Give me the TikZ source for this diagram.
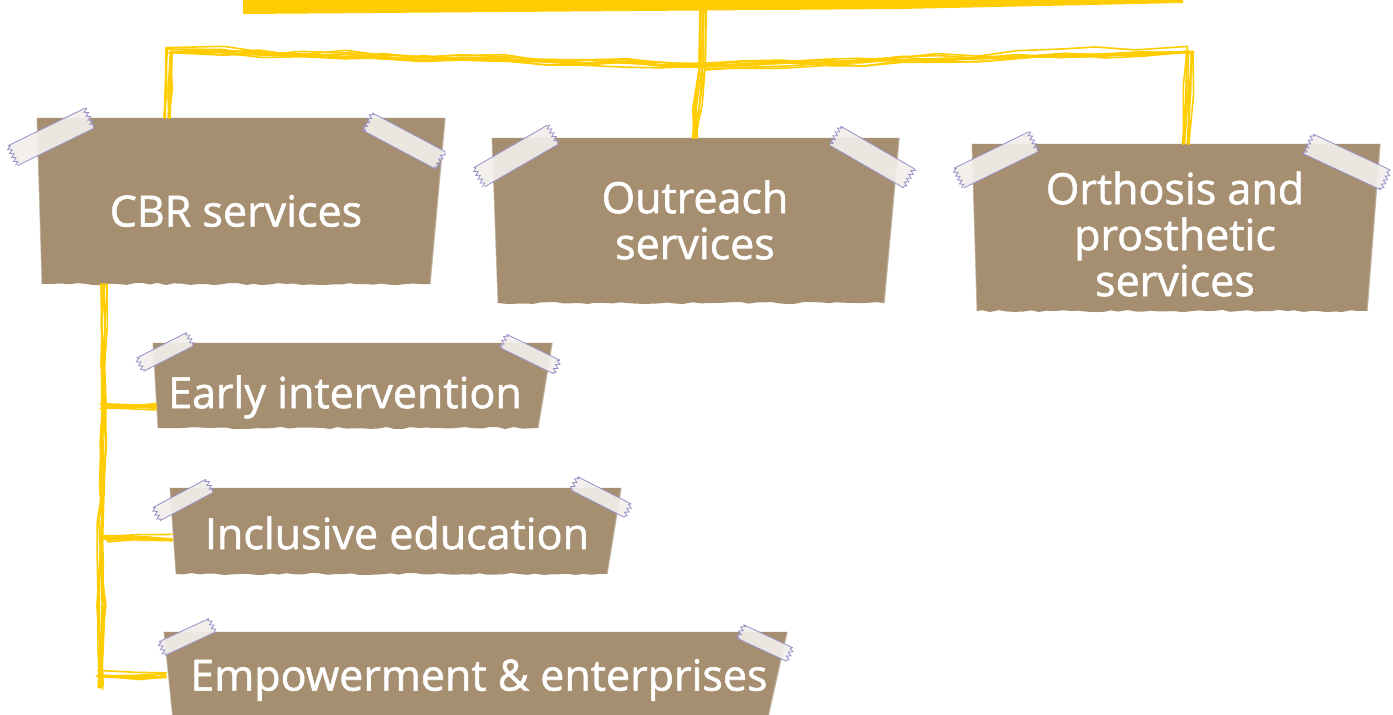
\documentclass[tikz,border=0pt]{standalone}
\usepackage{fontspec}
\setmainfont{Open Sans}[FakeBold=1.3]
\usetikzlibrary{decorations.pathmorphing,calc}
\definecolor{gold}{HTML}{FFCC00}
\definecolor{kraft}{HTML}{A68F70}
\definecolor{kraftedge}{HTML}{B8A994}
\definecolor{tapeline}{HTML}{9890C8}
\definecolor{tapefill}{HTML}{F1EEEA}
\tikzset{
  sk/.style={draw=gold, line width=0.8pt, line join=round, line cap=round,
    decorate, decoration={random steps, segment length=20pt, amplitude=1.6pt}},
  lbl/.style={text=white, font=\fontsize{21.5}{23}\selectfont, align=center, inner sep=0pt},
  tapebody/.style={fill=tapefill, fill opacity=0.92, draw=none},
  tapeedge/.style={draw=tapeline, line width=0.4pt},
}
% #1 tlx #2 trx #3 ty #4 brx #5 blx #6 by
\newcommand\kraftpaper[6]{%
  \fill[kraft] (#1,#3) -- (#2,#3) -- (#4,#6)
    decorate[decoration={random steps,segment length=4pt,amplitude=0.55pt}]{-- (#5,#6)} -- cycle;
  \draw[kraftedge, line width=0.7pt, opacity=0.8] (#2,#3) -- (#4,#6);
  \draw[kraftedge, line width=0.5pt, opacity=0.6] (#1,#3) -- (#5,#6);
}
% #1 cx #2 cy #3 angle #4 length #5 half width
\newcommand\tape[5]{%
  \begin{scope}[shift={(#1,#2)}, rotate=#3]
    \fill[tapebody] (-#4/2,-#5) rectangle (#4/2,#5);
    \draw[tapeedge] (-#4/2,-#5) -- (#4/2,-#5) (-#4/2,#5) -- (#4/2,#5);
    \draw[tapeedge, decorate, decoration={zigzag,segment length=2.2pt,amplitude=1pt}]
      (-#4/2,-#5) -- (-#4/2,#5) (#4/2,-#5) -- (#4/2,#5);
  \end{scope}}
\begin{document}
\begin{tikzpicture}[x=0.5pt,y=-0.5pt]
\pgfmathsetseed{7}
\useasboundingbox (0,0) rectangle (1393,715);
\clip (0,0) rectangle (1393,715);

% top bar
\fill[gold] (243,-10) -- (1183,-10) -- (1183,3) -- (900,9) -- (243,14) -- cycle;
\coordinate (barB) at (703,10);

% papers
\kraftpaper{37}{445}{118}{430}{42}{284}
\kraftpaper{492}{899}{138}{884}{498}{303}
\kraftpaper{972}{1380}{144}{1367}{977}{311}
\kraftpaper{153}{552}{343}{538}{158}{428}
\kraftpaper{170}{621}{488}{607}{176}{574}
\kraftpaper{164}{787}{632}{765}{174}{730}

% anchor points of papers
\coordinate (cbrT) at (168,118);
\coordinate (cbrB) at (104,284);
\coordinate (outT) at (694,138);
\coordinate (orthT) at (1186,144);
\coordinate (earlyL) at (156,406);
\coordinate (inclL) at (172,538);
\coordinate (empL) at (166,674);
\coordinate (hub) at (702,66);
\coordinate (cornL) at (170,50);
\coordinate (cornR) at (1190,50);
\coordinate (spineE) at (100,688);

% connectors (sketchy, several strokes)
\foreach \k in {1,...,8}{
  \pgfmathsetmacro\ax{rand*4}\pgfmathsetmacro\ay{rand*4}
  \pgfmathsetmacro\bx{rand*4}\pgfmathsetmacro\by{rand*4}
  \pgfmathsetmacro\cx{rand*4}\pgfmathsetmacro\cy{rand*4}
  \pgfmathsetmacro\dx{rand*4}\pgfmathsetmacro\dy{rand*4}
  \pgfmathsetmacro\ex{rand*4}\pgfmathsetmacro\ey{rand*4}
  \draw[sk] ($(barB)+(\ax,0)$) -- ($(hub)+(\ax,\ay)$) -- ($(outT)+(\bx,0)$);
  \draw[sk] ($(hub)+(\bx,\by)$) -- ($(cornL)+(\cx,\cy)$) -- ($(cbrT)+(\cx,0)$);
  \draw[sk] ($(hub)+(\dx,\dy)$) -- ($(cornR)+(\ex,\ey)$) -- ($(orthT)+(\ex,0)$);
  \draw[sk] ($(cbrB)+(\ax,0)$) -- ($(spineE)+(\bx,\by)$);
  \draw[sk] ($(cbrB |- earlyL)+(\cx,\cy)$) -- ($(earlyL)+(0,\dy)$);
  \draw[sk] ($(cbrB |- inclL)+(\dx,\dy)$) -- ($(inclL)+(0,\ey)$);
  \draw[sk] ($(spineE |- empL)+(\ex,\ey)$) -- ($(empL)+(0,\ay)$);
}

% labels
\node[lbl] (cbr) at (236,211) {CBR services};
\node[lbl] (out) at (695,220) {Outreach\\services};
\node[lbl] (orth) at (1175,234) {Orthosis and\\prosthetic\\services};
\node[lbl] (early) at (345,397) {Early intervention};
\node[lbl] (incl) at (397,533) {Inclusive education};
\node[lbl] (emp) at (479,680) {Empowerment \& enterprises};

% tapes
\tape{51}{137}{26}{85}{11}
\tape{404}{141}{-28}{82}{10}
\tape{516}{156}{30}{85}{11}
\tape{872}{157}{-30}{85}{11}
\tape{996}{160}{26}{83}{11}
\tape{1347}{162}{-25}{85}{11}
\tape{165}{352}{27}{56}{7.5}
\tape{530}{354}{-26}{59}{7.5}
\tape{183}{500}{28}{60}{7.5}
\tape{601}{497}{-27}{60}{7.5}
\tape{187}{637}{25}{55}{7.5}
\tape{765}{643}{-25}{54}{7.5}
\end{tikzpicture}
\end{document}
